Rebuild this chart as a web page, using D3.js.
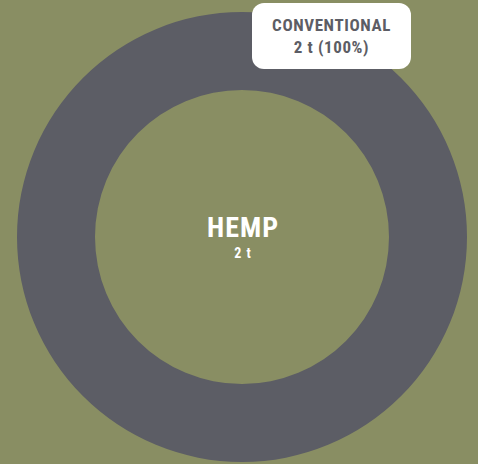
<!DOCTYPE html>
<html>
<head>
<meta charset="utf-8">
<script src="https://cdn.jsdelivr.net/npm/d3@7"></script>
<style>
  html, body { margin: 0; padding: 0; background: #898e63; }
  svg { display: block; }
  text { font-family: "Roboto Condensed", "Liberation Sans Narrow", "DejaVu Sans Condensed", Roboto, sans-serif; font-stretch: condensed; }
</style>
</head>
<body>
<svg id="chart" width="478" height="464"></svg>
<script>
// Tonnage of hemp by production type
const categories = ["CONVENTIONAL"];
const values = [2];
const unit = "t";
const centerTitle = "HEMP";

const width = 478, height = 464;
const cx = 242, cy = 237;
const outerR = 225, innerR = 147;

const svg = d3.select("#chart");
svg.append("rect").attr("width", width).attr("height", height).attr("fill", "#898e63");

const color = d3.scaleOrdinal().domain(categories).range(["#5c5d65"]);
const total = d3.sum(values);

const pie = d3.pie().sort(null).value(d => d.value);
const arcs = pie(categories.map((c, i) => ({ name: c, value: values[i] })));
const arc = d3.arc().innerRadius(innerR).outerRadius(outerR);

const g = svg.append("g").attr("transform", `translate(${cx},${cy})`);
g.selectAll("path").data(arcs).join("path")
  .attr("d", arc)
  .attr("fill", d => color(d.data.name));

// center label
g.append("text").attr("text-anchor", "middle").attr("x", 1).attr("y", 0)
  .attr("fill", "#ffffff").attr("font-weight", 700).attr("font-size", 28)
  .attr("letter-spacing", 1)
  .text(centerTitle);
g.append("text").attr("text-anchor", "middle").attr("x", 1).attr("y", 21)
  .attr("fill", "#ffffff").attr("font-weight", 700).attr("font-size", 14)
  .attr("letter-spacing", 1)
  .text(`${d3.format(",")(total)} ${unit}`);

// callout box per slice
const pct = d3.format(".0%");
const boxW = 159, boxH = 66;
arcs.forEach(d => {
  const bx = 252, by = 3;
  const lg = svg.append("g").attr("transform", `translate(${bx},${by})`);
  lg.append("rect").attr("width", boxW).attr("height", boxH).attr("rx", 12).attr("fill", "#ffffff");
  lg.append("text").attr("x", boxW / 2).attr("y", 28).attr("text-anchor", "middle")
    .attr("fill", "#5c5d65").attr("font-weight", 700).attr("font-size", 17)
    .attr("letter-spacing", 0.6)
    .text(d.data.name);
  lg.append("text").attr("x", boxW / 2).attr("y", 50).attr("text-anchor", "middle")
    .attr("fill", "#5c5d65").attr("font-weight", 700).attr("font-size", 17)
    .attr("letter-spacing", 0.6)
    .text(`${d.data.value} ${unit} (${pct(d.data.value / total).replace("%", "")}%)`);
});
</script>
</body>
</html>
